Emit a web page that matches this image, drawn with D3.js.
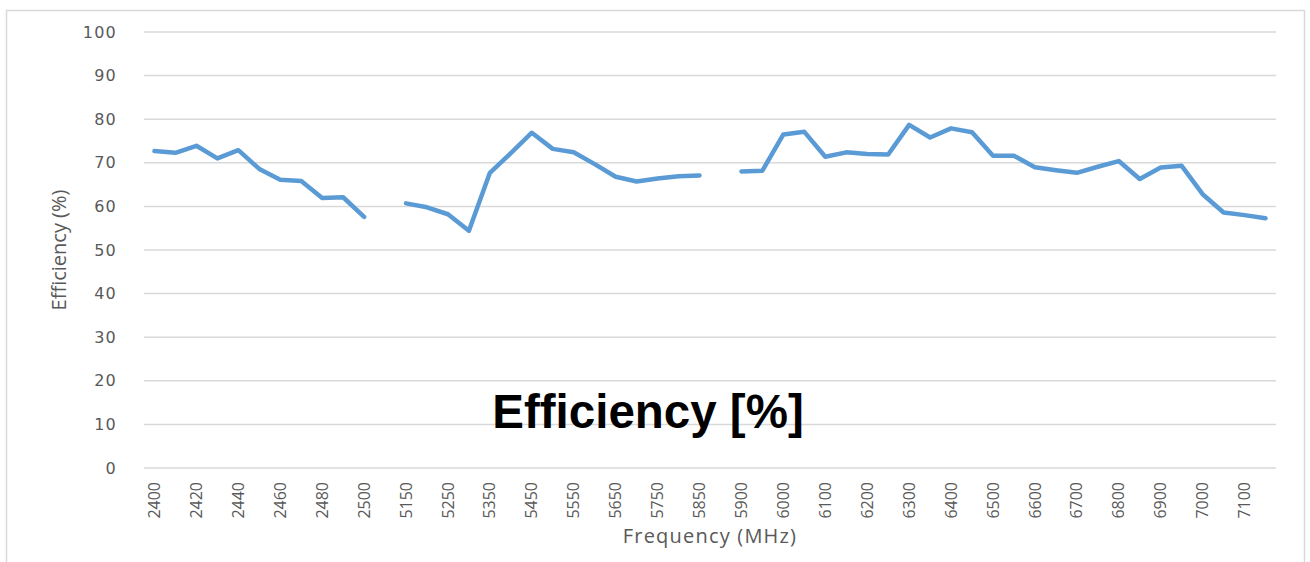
<!DOCTYPE html>
<html>
<head>
<meta charset="utf-8">
<script src="https://cdn.jsdelivr.net/npm/d3@7"></script>
<style>
  body { margin: 0; background: #fff; }
  svg { display: block; }
</style>
</head>
<body>
<div id="chart"></div>
<script>
var fullwidth = 1310;
var fullheight = 562;

var margin = {top: 32, right: 34, bottom: 94, left: 144};
var width = fullwidth - margin.left - margin.right;
var height = fullheight - margin.top - margin.bottom;

// categories (MHz); empty strings are the two gaps between bands
var frequencies = [
  "2400","2410","2420","2430","2440","2450","2460","2470","2480","2490","2500",
  "",
  "5150","5200","5250","5300","5350","5400","5450","5500","5550","5600","5650","5700","5750","5800","5850",
  "",
  "5900","5950","6000","6050","6100","6150","6200","6250","6300","6350","6400","6450","6500",
  "6550","6600","6650","6700","6750","6800","6850","6900","6950","7000","7050","7100","7150"
];

// efficiency (%), null = no measurement
var efficiency = [
  72.7, 72.3, 73.9, 71.0, 72.9, 68.6, 66.1, 65.8, 61.9, 62.1, 57.6,
  null,
  60.7, 59.8, 58.2, 54.4, 67.7, 72.2, 76.9, 73.2, 72.4, 69.7, 66.8, 65.7, 66.4, 66.9, 67.1,
  null,
  68.0, 68.2, 76.5, 77.1, 71.4, 72.4, 72.0, 71.9, 78.7, 75.8, 77.9, 77.0, 71.6,
  71.6, 69.0, 68.3, 67.7, 69.1, 70.4, 66.3, 68.9, 69.3, 62.8, 58.6, 58.0, 57.3
];

var yTicks = [0, 10, 20, 30, 40, 50, 60, 70, 80, 90, 100];

var vis = d3.select("#chart").append("svg")
    .attr("width", fullwidth)
    .attr("height", fullheight);

// chart area border
vis.append("rect")
    .attr("x", 6.5)
    .attr("y", 10.5)
    .attr("width", 1298)
    .attr("height", 600)
    .attr("fill", "#fff")
    .attr("stroke", "#d9d9d9")
    .attr("stroke-width", 1.5);

var svg = vis.append("g")
    .attr("transform", "translate(" + margin.left + "," + margin.top + ")");

var xScale = d3.scaleBand()
    .domain(d3.range(frequencies.length))
    .range([0, width]);

var yScale = d3.scaleLinear()
    .domain([0, 100])
    .range([height, 0]);

// gridlines
svg.selectAll("line.grid")
    .data(yTicks)
    .enter()
    .append("line")
    .attr("class", "grid")
    .attr("x1", 0)
    .attr("x2", width)
    .attr("y1", function(d) { return yScale(d); })
    .attr("y2", function(d) { return yScale(d); })
    .attr("stroke", "#d9d9d9")
    .attr("stroke-width", 1.5);

// y axis labels
var yAxis = d3.axisLeft(yScale)
    .tickValues(yTicks)
    .tickSize(0)
    .tickPadding(27);

svg.append("g")
    .attr("class", "y axis")
    .call(yAxis)
    .call(function(g) { g.select(".domain").remove(); })
    .selectAll("text")
    .attr("fill", "#595959")
    .attr("font-family", "'DejaVu Sans', sans-serif")
    .attr("font-size", 16)
    .attr("letter-spacing", 1.2);

// x axis labels, every other category
var xAxis = d3.axisBottom(xScale)
    .tickValues(d3.range(0, frequencies.length, 2))
    .tickFormat(function(i) { return frequencies[i]; })
    .tickSize(0);

svg.append("g")
    .attr("class", "x axis")
    .attr("transform", "translate(0," + height + ")")
    .call(xAxis)
    .call(function(g) { g.select(".domain").remove(); })
    .selectAll("text")
    .attr("fill", "#595959")
    .attr("font-family", "'Liberation Sans Narrow', 'Open Sans', sans-serif")
    .attr("font-size", 16)
    .attr("text-anchor", "end")
    .attr("transform", "rotate(-90)")
    .attr("x", -14)
    .attr("y", 0)
    .attr("dy", "0.35em");

// the line, broken at the gaps
var line = d3.line()
    .defined(function(d) { return d != null; })
    .x(function(d, i) { return xScale(i) + xScale.bandwidth() / 2; })
    .y(function(d) { return yScale(d); });

svg.append("path")
    .datum(efficiency)
    .attr("d", line)
    .attr("fill", "none")
    .attr("stroke", "#5b9bd5")
    .attr("stroke-width", 4.5)
    .attr("stroke-linejoin", "round")
    .attr("stroke-linecap", "round");

// axis titles
vis.append("text")
    .attr("x", margin.left + width / 2)
    .attr("y", 543)
    .attr("text-anchor", "middle")
    .attr("fill", "#595959")
    .attr("font-family", "'Open Sans', sans-serif")
    .attr("font-size", 20)
    .attr("letter-spacing", 1.2)
    .text("Frequency (MHz)");

vis.append("text")
    .attr("transform", "translate(66," + (margin.top + height / 2) + ") rotate(-90)")
    .attr("text-anchor", "middle")
    .attr("fill", "#595959")
    .attr("font-family", "'Liberation Sans Narrow', 'Open Sans', sans-serif")
    .attr("font-size", 20)
    .text("Efficiency (%)");

// big overlay label
vis.append("text")
    .attr("x", 648)
    .attr("y", 428)
    .attr("text-anchor", "middle")
    .attr("fill", "#000")
    .attr("font-family", "'Liberation Sans', Arial, sans-serif")
    .attr("font-weight", "bold")
    .attr("font-size", 47.5)
    .text("Efficiency [%]");
</script>
</body>
</html>
